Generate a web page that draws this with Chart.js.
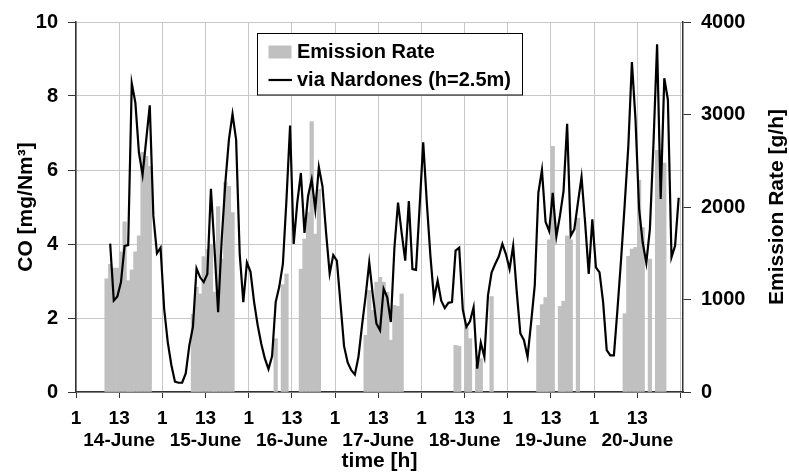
<!DOCTYPE html>
<html>
<head>
<meta charset="utf-8">
<title>CO via Nardones and emission rate</title>
<script src="https://cdn.jsdelivr.net/npm/chart.js@4.4.1/dist/chart.umd.min.js"></script>
<style>
  body { margin: 0; background: #fff; }
  #chart { display: block; }
</style>
</head>
<body>
<canvas id="chart" width="789" height="474"></canvas>
<script>
// hour index 0 = 14-June 1:00, one entry per hour until 20-June 24:00
const dayLabels = ["14-June", "15-June", "16-June", "17-June", "18-June", "19-June", "20-June"];
const hourLabels = ["1", "13"];
const tickHours = [0, 12, 24, 36, 48, 60, 72, 84, 96, 108, 120, 132, 144, 156, 168];

// emission rate [g/h] (grey bars, right axis)
const emissionRate = [
  // 14-June
  null, null, null, null, null, null, null, null, 1224, 1380, 1340, 1340,
  1516, 1840, 1204, 1320, 1516, 1688, 2592, 2548, 2440, null, null, null,
  // 15-June
  null, null, null, null, null, null, null, null, 840, 1132, 1060, 1464,
  1540, 1600, 1080, 2004, 1436, 2268, 2224, 1940, null, null, null, null,
  // 16-June
  null, null, null, null, null, null, null, 576, null, 1160, 1276, null,
  null, null, 1328, 1652, 1940, 2924, 1708, 2192, null, null, null, null,
  // 17-June
  null, null, null, null, null, null, null, null, 613, 1097, 882, 1188,
  1240, 1188, 1080, 560, 935, 925, 1060, null, null, null, null, null,
  // 18-June
  null, null, null, null, null, null, null, null, null, 505, 495, null,
  700, 577, null, 300, 360, null, null, 1032, null, null, null, null,
  // 19-June
  null, null, null, null, null, null, null, null, 720, 945, 1022, 1645,
  2656, null, 925, 982, 1688, 1645, null, 1880, null, null, null, null,
  // 20-June
  null, null, null, null, null, null, null, null, 846, 1466, 1545, 1563,
  2290, 1778, null, 1437, null, 2613, 2613, 2475, null, null, null, null
];

// CO via Nardones (h=2.5m) [mg/Nm3] (black line, left axis)
const coNardones = [
  // 14-June
  null, null, null, null, null, null, null, null, null, 4.01, 2.47, 2.58,
  2.97, 3.95, 3.97, 8.34, 7.82, 6.46, 5.87, 6.8, 7.75, 4.76, 3.75, 3.9,
  // 15-June
  2.25, 1.35, 0.73, 0.28, 0.25, 0.25, 0.5, 1.26, 1.76, 3.34, 3.1, 2.97,
  3.19, 5.49, 3.86, 2.16, 4.13, 5.65, 6.82, 7.51, 6.82, 3.73, 2.43, 3.5,
  // 16-June
  3.25, 2.43, 1.8, 1.3, 0.9, 0.62, 0.97, 2.43, 2.85, 3.46, 5.21, 7.2,
  4.0, 5.12, 5.92, 4.3, 5.3, 5.74, 4.94, 6.08, 5.56, 4.31, 3.2, 3.7,
  // 17-June
  3.55, 2.4, 1.24, 0.8, 0.59, 0.47, 0.95, 1.8, 2.6, 3.5, 2.61, 1.85,
  1.67, 2.79, 2.56, 1.89, 3.9, 5.12, 4.31, 3.55, 5.16, 3.32, 3.3, 5.0,
  // 18-June
  6.75, 5.12, 3.68, 2.52, 3.01, 2.47, 2.27, 2.41, 2.43, 3.82, 3.9, 2.23,
  1.76, 1.91, 2.29, 0.63, 1.33, 0.95, 2.61, 3.23, 3.46, 3.66, 4.0, 3.72,
  // 19-June
  3.32, 3.95, 2.7, 1.58, 1.4, 0.95, 1.89, 2.88, 5.38, 6.0, 4.6, 4.35,
  5.38, 4.2, 4.76, 5.43, 7.25, 4.22, 4.4, 5.12, 5.81, 4.58, 3.19, 4.67,
  // 20-June
  3.37, 3.23, 2.43, 1.13, 0.99, 0.99, 2.25, 3.59, 5.07, 6.64, 8.92, 7.36,
  4.94, 4.04, 3.49, 4.4, 6.73, 9.4, 5.22, 8.48, 7.9, 3.64, 3.95, 5.25
];

// each value sits in the middle of its hour
const toPoints = (arr) =>
  arr.map((v, i) => ({ x: i + 0.5, y: v })).filter((p) => p.y !== null);

const fontFamily = "'Liberation Sans', Arial, sans-serif";
Chart.defaults.font.family = fontFamily;
Chart.defaults.font.weight = "bold";
Chart.defaults.color = "#000";

const axisColor = "#333";
const gridColor = "#c8c8c8";

// framed legend box inside the plot, like the original
const boxLegend = {
  id: "boxLegend",
  afterDraw(chart) {
    const ctx = chart.ctx;
    const sets = chart.data.datasets;
    ctx.save();
    ctx.fillStyle = "#fff";
    ctx.fillRect(257.5, 33.5, 265, 61.5);
    ctx.strokeStyle = "#000";
    ctx.lineWidth = 1;
    ctx.strokeRect(257.5, 33.5, 265, 61.5);
    ctx.font = "bold 20px " + fontFamily;
    ctx.textBaseline = "middle";
    ctx.fillStyle = sets[1].backgroundColor;
    ctx.fillRect(268.5, 45.5, 23, 13);
    ctx.fillStyle = "#000";
    ctx.fillText(sets[1].label, 297, 52);
    ctx.strokeStyle = sets[0].borderColor;
    ctx.lineWidth = 2.2;
    ctx.beginPath();
    ctx.moveTo(268.5, 80);
    ctx.lineTo(292, 80);
    ctx.stroke();
    ctx.fillText(sets[0].label, 297, 80);
    ctx.restore();
  },
};

// right axis title reads bottom to top
const rightTitle = {
  id: "rightTitle",
  afterDraw(chart) {
    const ctx = chart.ctx;
    const area = chart.chartArea;
    ctx.save();
    ctx.translate(777, (area.top + area.bottom) / 2);
    ctx.rotate(-Math.PI / 2);
    ctx.font = "bold 21px " + fontFamily;
    ctx.textAlign = "center";
    ctx.textBaseline = "middle";
    ctx.fillStyle = "#000";
    ctx.fillText("Emission Rate [g/h]", 0, 0);
    ctx.restore();
  },
};

new Chart(document.getElementById("chart"), {
  type: "bar",
  data: {
    datasets: [
      {
        type: "line",
        label: "via Nardones (h=2.5m)",
        data: toPoints(coNardones),
        yAxisID: "y",
        borderColor: "#000",
        borderWidth: 2.2,
        pointRadius: 0,
        tension: 0,
        order: 0,
      },
      {
        type: "bar",
        label: "Emission Rate",
        data: toPoints(emissionRate),
        yAxisID: "y2",
        backgroundColor: "#c0c0c0",
        borderWidth: 0,
        barPercentage: 1,
        categoryPercentage: 1,
        order: 1,
      },
    ],
  },
  options: {
    responsive: false,
    animation: false,
    layout: { padding: { top: 20, left: 0, right: 0, bottom: 0 } },
    plugins: {
      legend: { display: false },
      tooltip: { enabled: false },
    },
    scales: {
      x: {
        type: "linear",
        min: 0,
        max: 168.7,
        offset: false,
        afterBuildTicks: (scale) => {
          scale.ticks = tickHours.map((v) => ({ value: v }));
        },
        afterFit: (scale) => {
          scale.height = 82;
        },
        grid: {
          offset: false,
          color: gridColor,
          tickColor: axisColor,
          tickLength: 6,
        },
        border: { color: axisColor, width: 1.5 },
        ticks: {
          autoSkip: false,
          maxRotation: 0,
          padding: 10,
          font: { size: 19, lineHeight: 1.16 },
          callback: (value) => {
            if (value >= 168) return "";
            if (value % 24 === 0) return hourLabels[0];
            return [hourLabels[1], dayLabels[Math.floor(value / 24)]];
          },
        },
        title: {
          display: true,
          text: "time [h]",
          font: { size: 21, lineHeight: 1.2 },
          padding: { top: 0, bottom: 0 },
        },
      },
      y: {
        position: "left",
        min: 0,
        max: 10,
        afterFit: (scale) => {
          scale.width = 76;
        },
        grid: { color: gridColor, tickColor: axisColor, tickLength: 8 },
        border: { color: axisColor, width: 1.5 },
        ticks: { stepSize: 2, padding: 10, font: { size: 20 } },
        title: {
          display: true,
          text: "CO [mg/Nm³]",
          font: { size: 21, lineHeight: 1.2 },
          padding: { top: 14, bottom: 0 },
        },
      },
      y2: {
        position: "right",
        min: 0,
        max: 4000,
        afterFit: (scale) => {
          scale.width = 106;
        },
        grid: { drawOnChartArea: false, tickColor: axisColor, tickLength: 8 },
        border: { color: axisColor, width: 1.5 },
        ticks: {
          stepSize: 1000,
          padding: 10,
          font: { size: 20 },
          callback: (value) => String(value),
        },
      },
    },
  },
  plugins: [boxLegend, rightTitle],
});
</script>
</body>
</html>
